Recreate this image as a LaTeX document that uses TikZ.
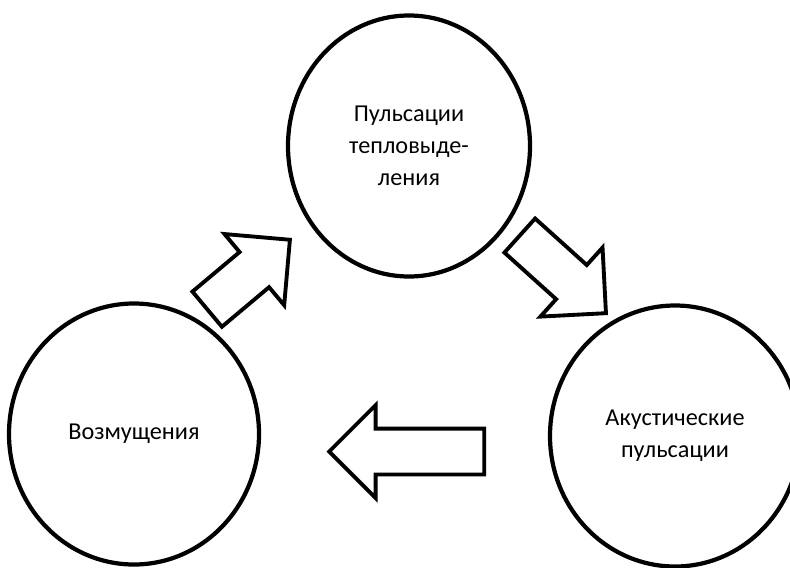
\documentclass[tikz,border=0pt]{standalone}
\usepackage{fontspec}
\setmainfont{Carlito}
\usetikzlibrary{positioning, shapes.geometric, shapes.arrows}

\begin{document}
\begin{tikzpicture}[on grid,
    proc/.style={ellipse, draw, line width=2.4pt, minimum width=5cm, minimum height=5.22cm,
        align=center, font=\fontsize{13.8}{18.2}\selectfont},
    blockarrow/.style={single arrow, draw, line width=2.2pt, inner xsep=0pt, inner ysep=0.42cm,
        single arrow head extend=0.47cm, anchor=tip}]
    \useasboundingbox (-8.18,2.92) rectangle (7.62,-8.42);

    \node[proc, minimum width=4.84cm] (P) {Пульсации\\тепловыде-\\ления};
    \node[proc] (V) [below left=5.76cm and 5.5cm of P] {Возмущения};
    \node[proc] (A) [below right=5.8cm and 5.32cm of P] {Акустические\\пульсации};

    % block arrows between the stages, placed by their tips
    \node[blockarrow, minimum height=2.16cm, rotate=40] (VP) at ([shift={(-2.34,-1.84)}]P) {};
    \node[blockarrow, minimum height=2.32cm, rotate=-42] (PA) at ([shift={(3.98,-3.38)}]P) {};
    \node[blockarrow, minimum height=3.1cm, rotate=180] (AV) at ([shift={(-1.65,-6.11)}]P) {};
\end{tikzpicture}
\end{document}
